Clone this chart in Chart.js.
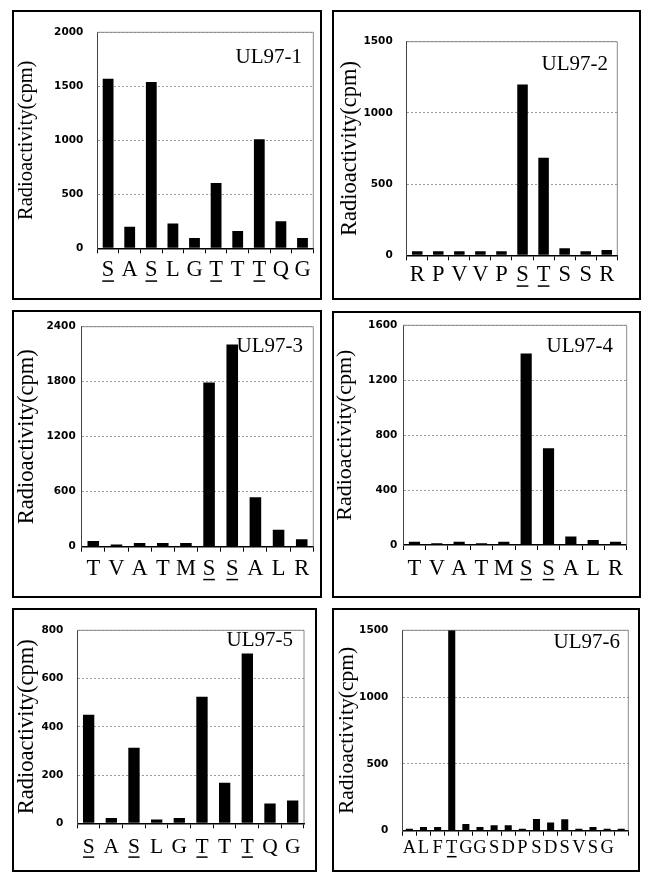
<!DOCTYPE html>
<html>
<head>
<meta charset="utf-8">
<script src="https://cdn.jsdelivr.net/npm/chart.js@4"></script>
<style>
  body { margin: 0; background: #fff; }
  #page { position: relative; width: 649px; height: 883px; background: #fff; }
  .box { position: absolute; border: 2px solid #000; box-sizing: border-box; }
  .box canvas { position: absolute; left: 0; top: 0; }
</style>
</head>
<body>
<div id="page"></div>
<script>
// peptide sequences and counts
const labels1 = ['S', 'A', 'S', 'L', 'G', 'T', 'T', 'T', 'Q', 'G'];
const values1 = [1570, 200, 1540, 230, 95, 605, 160, 1010, 250, 95];
const underline1 = [0, 2, 5, 7];
const yTicks1 = [0, 500, 1000, 1500, 2000];

const labels2 = ['R', 'P', 'V', 'V', 'P', 'S', 'T', 'S', 'S', 'R'];
const values2 = [28, 28, 28, 28, 28, 1200, 685, 50, 28, 37];
const underline2 = [5, 6];
const yTicks2 = [0, 500, 1000, 1500];

const labels3 = ['T', 'V', 'A', 'T', 'M', 'S', 'S', 'A', 'L', 'R'];
const values3 = [62, 25, 40, 40, 40, 1790, 2205, 540, 185, 80];
const underline3 = [5, 6];
const yTicks3 = [0, 600, 1200, 1800, 2400];

const labels4 = ['T', 'V', 'A', 'T', 'M', 'S', 'S', 'A', 'L', 'R'];
const values4 = [24, 12, 24, 12, 24, 1395, 705, 62, 36, 24];
const underline4 = [5, 6];
const yTicks4 = [0, 400, 800, 1200, 1600];

const labels5 = ['S', 'A', 'S', 'L', 'G', 'T', 'T', 'T', 'Q', 'G'];
const values5 = [450, 22, 313, 16, 22, 525, 168, 704, 82, 94];
const underline5 = [0, 2, 5, 7];
const yTicks5 = [0, 200, 400, 600, 800];

const labels6 = ['A', 'L', 'F', 'T', 'G', 'G', 'S', 'D', 'P', 'S', 'D', 'S', 'V', 'S', 'G', ''];
const values6 = [14, 28, 28, 1500, 50, 28, 40, 40, 14, 88, 62, 85, 14, 28, 14, 14];
const underline6 = [3];
const yTicks6 = [0, 500, 1000, 1500];

const names = ['UL97-1', 'UL97-2', 'UL97-3', 'UL97-4', 'UL97-5', 'UL97-6'];
const yTitle = 'Radioactivity(cpm)';

// layout of each panel in page pixels
const panels = [
  { labels: labels1, values: values1, under: underline1, ticks: yTicks1, name: names[0],
    box: [12, 10, 322, 300], plot: [97.3, 26, 313.3, 248.3], titleX: 27, titleSize: 20.5,
    tickGap: 14, labelY: 270.5, catSize: 22.5, nameRight: 302, nameBase: 62.7 },
  { labels: labels2, values: values2, under: underline2, ticks: yTicks2, name: names[1],
    box: [332, 10, 641, 300], plot: [406.7, 41.7, 617.3, 255.3], titleX: 350, titleSize: 22.5,
    tickGap: 14, labelY: 275.5, catSize: 22.5, nameRight: 608, nameBase: 70 },
  { labels: labels3, values: values3, under: underline3, ticks: yTicks3, name: names[2],
    box: [12, 310, 322, 598], plot: [81.7, 326.7, 313.3, 546.7], titleX: 27, titleSize: 22.5,
    tickGap: 6, labelY: 569, catSize: 22.5, nameRight: 303, nameBase: 351.7 },
  { labels: labels4, values: values4, under: underline4, ticks: yTicks4, name: names[3],
    box: [332, 311, 641, 598], plot: [403.3, 325, 626.7, 545], titleX: 345, titleSize: 22,
    tickGap: 6, labelY: 569, catSize: 22.5, nameRight: 613, nameBase: 351.7 },
  { labels: labels5, values: values5, under: underline5, ticks: yTicks5, name: names[4],
    box: [12, 608, 317, 872], plot: [77.3, 621.7, 304, 823.3], titleX: 27, titleSize: 22.5,
    tickGap: 14, labelY: 847, catSize: 21.5, nameRight: 293, nameBase: 645.7 },
  { labels: labels6, values: values6, under: underline6, ticks: yTicks6, name: names[5],
    box: [332, 608, 640, 872], plot: [402.3, 620, 628.3, 830.7], titleX: 347, titleSize: 21.5,
    tickGap: 14, labelY: 848, catSize: 18.5, nameRight: 620, nameBase: 647.7 }
];

const TICK_LEN = 5;
const X_H = 40;
const BORDER = 2;

const page = document.getElementById('page');

panels.forEach((p) => {
  const [bx0, by0, bx1, by1] = p.box;
  const div = document.createElement('div');
  div.className = 'box';
  div.style.left = bx0 + 'px';
  div.style.top = by0 + 'px';
  div.style.width = (bx1 - bx0) + 'px';
  div.style.height = (by1 - by0) + 'px';
  page.appendChild(div);

  const ox = bx0 + BORDER, oy = by0 + BORDER;
  const cw = bx1 - bx0 - 2 * BORDER, ch = by1 - by0 - 2 * BORDER;
  const canvas = document.createElement('canvas');
  canvas.width = cw;
  canvas.height = ch;
  div.appendChild(canvas);

  const l = p.plot[0] - ox, t = p.plot[1] - oy, r = p.plot[2] - ox, b = p.plot[3] - oy;
  const labelPad = (p.labelY - oy - b) - TICK_LEN - p.catSize / 2;
  const titlePad = Math.max(p.titleX - ox - p.titleSize / 2, 0);
  const yMax = p.ticks[p.ticks.length - 1];
  const yStep = p.ticks[1] - p.ticks[0];

  const decor = {
    id: 'decor',
    beforeDatasetsDraw(chart) {
      const { ctx, chartArea: a } = chart;
      ctx.save();
      ctx.strokeStyle = '#8a8a8a';
      ctx.lineWidth = 1;
      ctx.beginPath();
      ctx.moveTo(a.left, a.top);
      ctx.lineTo(a.right, a.top);
      ctx.lineTo(a.right, a.bottom);
      ctx.stroke();
      ctx.restore();
    },
    afterDraw(chart) {
      const { ctx } = chart;
      const xs = chart.scales.x;
      ctx.save();
      // panel name
      ctx.fillStyle = '#000';
      ctx.font = '21px "Liberation Serif"';
      ctx.textAlign = 'right';
      ctx.textBaseline = 'alphabetic';
      ctx.fillText(p.name, p.nameRight - ox, p.nameBase - oy);
      // underlined residues
      const uy = xs.top + TICK_LEN + labelPad + p.catSize * 0.5 + p.catSize * 0.47;
      const uw = p.catSize * 0.52;
      ctx.strokeStyle = '#000';
      ctx.lineWidth = 1.5;
      p.under.forEach((i) => {
        const x = xs.getPixelForTick(i);
        ctx.beginPath();
        ctx.moveTo(x - uw / 2, uy);
        ctx.lineTo(x + uw / 2, uy);
        ctx.stroke();
      });
      ctx.restore();
    }
  };

  new Chart(canvas, {
    type: 'bar',
    data: {
      labels: p.labels,
      datasets: [{
        data: p.values,
        backgroundColor: '#000',
        borderWidth: 0,
        barPercentage: 0.5,
        categoryPercentage: 1
      }]
    },
    options: {
      responsive: false,
      animation: false,
      layout: { padding: { left: 0, top: t, right: cw - r, bottom: ch - b - X_H } },
      plugins: { legend: { display: false }, tooltip: { enabled: false } },
      scales: {
        x: {
          grid: { offset: true, drawOnChartArea: false, drawTicks: true, tickLength: TICK_LEN, color: '#000', lineWidth: 1 },
          border: { color: '#000', width: 1.5 },
          ticks: {
            font: { family: '"Liberation Serif"', size: p.catSize, lineHeight: 1 },
            color: '#000', padding: labelPad, maxRotation: 0, autoSkip: false
          },
          afterFit: (s) => { s.height = X_H; }
        },
        y: {
          min: 0,
          max: yMax,
          ticks: {
            stepSize: yStep,
            callback: (v) => String(v),
            font: { family: '"DejaVu Sans"', weight: 'bold', size: 10.5 },
            color: '#000',
            padding: p.tickGap
          },
          grid: {
            drawTicks: false,
            color: (c) => (c.tick && c.tick.value === 0 ? 'rgba(0,0,0,0)' : '#9a9a9a'),
            lineWidth: 1
          },
          border: { color: '#444', width: 1, dash: [2, 2] },
          title: {
            display: true,
            text: yTitle,
            font: { family: '"Liberation Serif"', size: p.titleSize, lineHeight: 1 },
            color: '#000',
            padding: { top: titlePad, bottom: 0 }
          },
          afterFit: (s) => { s.width = l; }
        }
      }
    },
    plugins: [decor]
  });
});
</script>
</body>
</html>
